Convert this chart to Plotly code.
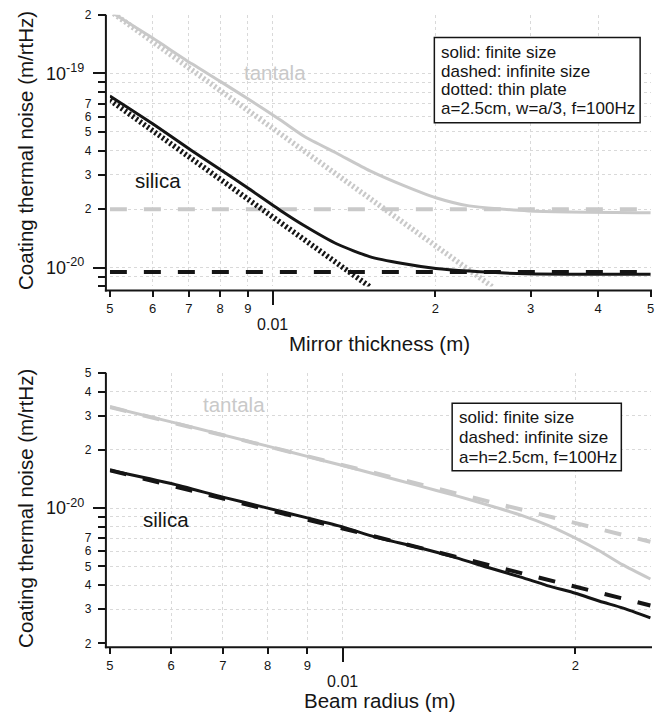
import math
import plotly.graph_objects as go

W, H = 655, 723

# ---------------- data: top panel (mirror thickness) ----------------
thick_tan_solid_x = [0.005, 0.00513, 0.006, 0.00709, 0.008, 0.009, 0.01037, 0.01143, 0.01319,
                     0.01511, 0.0174, 0.02004, 0.02308, 0.02975, 0.05]
thick_tan_solid_y = [2.1e-19, 2.0e-19, 1.52e-19, 1.12e-19, 9.1e-20, 7.4e-20, 5.72e-20, 4.75e-20,
                     3.86e-20, 3.16e-20, 2.66e-20, 2.29e-20, 2.08e-20, 1.96e-20, 1.92e-20]
thick_tan_dash_x = [0.005, 0.05]
thick_tan_dash_y = [2.0e-20, 2.0e-20]
thick_tan_dot_x = [0.005, 0.0256]
thick_tan_dot_y = [2.1e-19, 7.9e-21]

thick_sil_solid_x = [0.005, 0.006, 0.00709, 0.008, 0.009, 0.01037, 0.01143, 0.01319, 0.01511,
                     0.0174, 0.02004, 0.02308, 0.0294, 0.05]
thick_sil_solid_y = [7.65e-20, 5.5e-20, 4.0e-20, 3.2e-20, 2.57e-20, 1.96e-20, 1.65e-20, 1.32e-20,
                     1.14e-20, 1.05e-20, 9.9e-21, 9.6e-21, 9.3e-21, 9.25e-21]
thick_sil_dash_x = [0.005, 0.05]
thick_sil_dash_y = [9.5e-21, 9.5e-21]
thick_sil_dot_x = [0.005, 0.0152]
thick_sil_dot_y = [7.3e-20, 7.9e-21]

# ---------------- data: bottom panel (beam radius) ----------------
beam_x = [0.005, 0.006, 0.007, 0.008, 0.009, 0.010, 0.011, 0.0125, 0.014, 0.0155,
          0.017, 0.0185, 0.020, 0.0215, 0.023, 0.025]
beam_tan_solid = [3.33e-20, 2.79e-20, 2.39e-20, 2.09e-20, 1.85e-20, 1.66e-20, 1.50e-20, 1.31e-20,
                  1.16e-20, 1.03e-20, 9.2e-21, 8.1e-21, 7.0e-21, 6.0e-21, 5.1e-21, 4.3e-21]
beam_sil_solid = [1.57e-20, 1.34e-20, 1.14e-20, 1.0e-20, 8.9e-21, 8.0e-21, 7.1e-21, 6.28e-21,
                  5.55e-21, 4.9e-21, 4.4e-21, 3.95e-21, 3.63e-21, 3.3e-21, 3.05e-21, 2.71e-21]
beam_dash_x = [0.005, 0.01, 0.02, 0.025]
beam_tan_dash = [3.33e-20, 1.665e-20, 8.3e-21, 6.7e-21]
beam_sil_dash = [1.57e-20, 7.85e-21, 3.93e-21, 3.14e-21]

# ---------------- tick labels ----------------
top_x_vals = [0.005, 0.006, 0.007, 0.008, 0.009, 0.02, 0.03, 0.04, 0.05]
top_x_text = ["5", "6", "7", "8", "9", "2", "3", "4", "5"]
top_y_vals = [2e-19, 7e-20, 6e-20, 5e-20, 4e-20, 3e-20, 2e-20]
top_y_text = ["2", "7", "6", "5", "4", "3", "2"]
top_y_minor = [9e-20, 8e-20, 9e-21, 8e-21]
bot_x_vals = [0.005, 0.006, 0.007, 0.008, 0.009, 0.02]
bot_x_text = ["5", "6", "7", "8", "9", "2"]
bot_y_vals = [5e-20, 4e-20, 3e-20, 2e-20, 7e-21, 6e-21, 5e-21, 4e-21, 3e-21, 2e-21]
bot_y_text = ["5", "4", "3", "2", "7", "6", "5", "4", "3", "2"]
bot_y_minor = [9e-21, 8e-21]
dec_x_vals, dec_x_text = [0.01], ["0.01"]
top_dec_y_vals, top_dec_y_text = [1e-19, 1e-20], ["10<sup>-19</sup>", "10<sup>-20</sup>"]
bot_dec_y_vals, bot_dec_y_text = [1e-20], ["10<sup>-20</sup>"]

GRAY = "#c9c9c9"
BLACK = "#151515"
FONT = "Liberation Sans, Arial, Helvetica, sans-serif"


def px(x):
    return x / W


def py(y):
    return 1 - y / H


fig = go.Figure()


def add(x, y, color, style, xa, ya):
    if style == "solid":
        line = dict(color=color, width=3, shape="spline", smoothing=0.6)
    elif style == "dash":
        line = dict(color=color, width=4, dash="17px,17px")
    else:
        line = dict(color=color, width=5.5, dash="2.2px,2.4px")
    fig.add_trace(go.Scatter(x=x, y=y, mode="lines", line=line, xaxis=xa, yaxis=ya,
                             showlegend=False, hoverinfo="skip"))


# top panel
add(thick_tan_dash_x, thick_tan_dash_y, GRAY, "dash", "x", "y")
add(thick_tan_dot_x, thick_tan_dot_y, GRAY, "dot", "x", "y")
add(thick_tan_solid_x, thick_tan_solid_y, GRAY, "solid", "x", "y")
add(thick_sil_dash_x, thick_sil_dash_y, BLACK, "dash", "x", "y")
add(thick_sil_dot_x, thick_sil_dot_y, BLACK, "dot", "x", "y")
add(thick_sil_solid_x, thick_sil_solid_y, BLACK, "solid", "x", "y")
# bottom panel
add(beam_dash_x, beam_tan_dash, GRAY, "dash", "x2", "y2")
add(beam_x, beam_tan_solid, GRAY, "solid", "x2", "y2")
add(beam_dash_x, beam_sil_dash, BLACK, "dash", "x2", "y2")
add(beam_x, beam_sil_solid, BLACK, "solid", "x2", "y2")
# invisible traces so the overlay (decade) axes are drawn
for xa, ya in (("x3", "y3"), ("x4", "y4")):
    fig.add_trace(go.Scatter(x=[0.01], y=[1e-20], mode="markers", marker=dict(opacity=0),
                             xaxis=xa, yaxis=ya, showlegend=False, hoverinfo="skip"))

xdom = [px(107), px(654)]
top_ydom = [py(285), py(8)]
bot_ydom = [py(649), py(373)]
top_xr = [math.log10(0.005), math.log10(0.05) + 0.0008]
top_yr = [math.log10(8e-21), math.log10(2e-19) + 0.0005]
bot_xr = [math.log10(0.005), math.log10(0.025) + 0.0008]
bot_yr = [math.log10(2e-21) - 0.0005, math.log10(5e-20) + 0.0005]

grid = dict(showgrid=True, gridcolor="#d9d9d9", griddash="dot", gridwidth=1)
common = dict(type="log", ticks="outside", tickcolor=BLACK, tickwidth=2, showline=False,
              zeroline=False, tickmode="array", anchor="free", ticklabeloverflow="allow")


def xmain(rng, pos, vals, text):
    return dict(common, domain=xdom, range=rng, position=pos, tickvals=vals, ticktext=text,
                ticklen=6, tickfont=dict(family=FONT, size=13, color=BLACK),
                ticklabelstandoff=0, **grid)


def ymain(rng, dom, vals, text, minor_vals):
    return dict(common, domain=dom, range=rng, position=px(103), tickvals=vals, ticktext=text,
                ticklen=8, tickfont=dict(family=FONT, size=12, color=BLACK),
                ticklabelstandoff=4,
                minor=dict(tickmode="array", tickvals=minor_vals, ticks="outside", ticklen=8,
                           tickwidth=2, tickcolor=BLACK, showgrid=True, gridcolor="#d9d9d9",
                           griddash="dot", gridwidth=1),
                **grid)


def xdec(rng, pos, over):
    return dict(common, range=rng, position=pos, overlaying=over, tickvals=dec_x_vals,
                ticktext=dec_x_text, ticklen=14, tickfont=dict(family=FONT, size=16, color=BLACK),
                ticklabelstandoff=5, **grid)


def ydec(rng, over, vals, text):
    return dict(common, range=rng, position=px(103), overlaying=over, tickvals=vals,
                ticktext=text, ticklen=13, tickfont=dict(family=FONT, size=18, color=BLACK),
                ticklabelstandoff=5, **grid)


fig.update_layout(
    width=W, height=H, margin=dict(l=0, r=0, t=0, b=0),
    paper_bgcolor="white", plot_bgcolor="white", showlegend=False,
    font=dict(family=FONT, color=BLACK),
    xaxis=xmain(top_xr, py(289), top_x_vals, top_x_text),
    yaxis=ymain(top_yr, top_ydom, top_y_vals, top_y_text, top_y_minor),
    xaxis2=xmain(bot_xr, py(653), bot_x_vals, bot_x_text),
    yaxis2=ymain(bot_yr, bot_ydom, bot_y_vals, bot_y_text, bot_y_minor),
    xaxis3=xdec(top_xr, py(289), "x"),
    yaxis3=ydec(top_yr, "y", top_dec_y_vals, top_dec_y_text),
    xaxis4=xdec(bot_xr, py(653), "x2"),
    yaxis4=ydec(bot_yr, "y2", bot_dec_y_vals, bot_dec_y_text),
)

shapes = []
# axis lines
for (x0, y0, x1, y1) in [(103, 8, 103, 290), (102, 289, 655, 289),
                         (103, 373, 103, 654), (102, 653, 655, 653)]:
    shapes.append(dict(type="line", xref="paper", yref="paper", x0=px(x0), y0=py(y0),
                       x1=px(x1), y1=py(y1), line=dict(color=BLACK, width=2)))
# legend boxes
for (x0, y0, x1, y1) in [(435, 31, 643, 118), (453, 404, 624, 473)]:
    shapes.append(dict(type="rect", xref="paper", yref="paper", x0=px(x0), y0=py(y0),
                       x1=px(x1), y1=py(y1), line=dict(color=BLACK, width=1.5),
                       fillcolor="white", layer="above"))
fig.update_layout(shapes=shapes)

ann = []


def text(x, y, s, size, color=BLACK, xanchor="center", angle=0):
    ann.append(dict(x=px(x), y=py(y), xref="paper", yref="paper", text=s, showarrow=False,
                    xanchor=xanchor, yanchor="middle", textangle=angle,
                    font=dict(family=FONT, size=size, color=color)))


ytitle = "Coating thermal noise (m/rtHz)"
text(21, 146, ytitle, 20.5, angle=-90)
text(21, 511, ytitle, 20.5, angle=-90)
text(380, 343, "Mirror thickness (m)", 20.5)
text(380, 707, "Beam radius (m)", 20.5)
text(274, 67, "tantala", 20.5, GRAY)
text(156, 177, "silica", 20.5)
text(232, 405, "tantala", 20.5, GRAY)
text(164, 523, "silica", 20.5)

top_legend = ["solid: finite size", "dashed: infinite size", "dotted: thin plate",
              "a=2.5cm, w=a/3, f=100Hz"]
for i, s in enumerate(top_legend):
    text(440, 46 + 19.3 * i, s, 17, xanchor="left")
bot_legend = ["solid: finite size", "dashed: infinite size", "a=h=2.5cm, f=100Hz"]
for i, s in enumerate(bot_legend):
    text(458, 419 + 20 * i, s, 17, xanchor="left")
fig.update_layout(annotations=ann)

fig.write_html("out.html", config={"displayModeBar": False},
               post_script="document.body.style.margin='0';document.body.style.overflow='hidden';")
